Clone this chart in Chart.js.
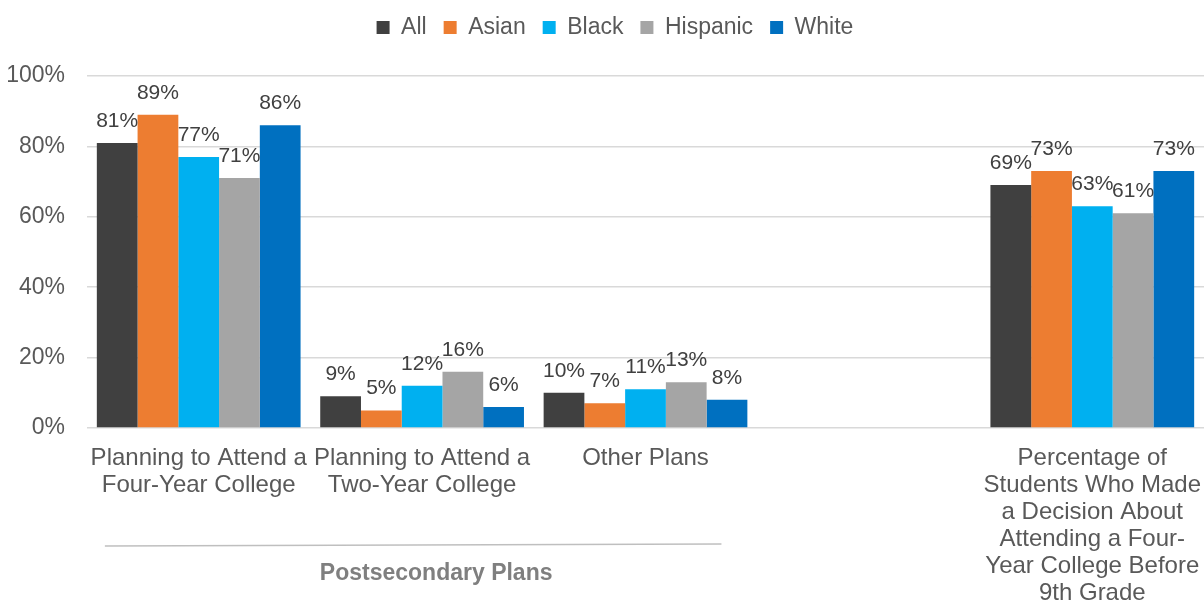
<!DOCTYPE html>
<html>
<head>
<meta charset="utf-8">
<script src="https://cdn.jsdelivr.net/npm/chart.js@4.4.1/dist/chart.umd.min.js"></script>
<style>
  html, body { margin: 0; padding: 0; background: #fff; }
  #wrap { width: 1204px; height: 602px; }
</style>
</head>
<body>
<div id="wrap"><canvas id="chart" width="1204" height="602"></canvas></div>
<script>
const categories = [
  ['Planning to Attend a', 'Four-Year College'],
  ['Planning to Attend a', 'Two-Year College'],
  'Other Plans',
  '',
  ['Percentage of', 'Students Who Made', 'a Decision About', 'Attending a Four-', 'Year College Before', '9th Grade']
];
const seriesNames = ['All', 'Asian', 'Black', 'Hispanic', 'White'];
const allValues = [81, 9, 10, null, 69];
const asianValues = [89, 5, 7, null, 73];
const blackValues = [77, 12, 11, null, 63];
const hispanicValues = [71, 16, 13, null, 61];
const whiteValues = [86, 6, 8, null, 73];
const yTicks = [0, 20, 40, 60, 80, 100];
const groupLabel = 'Postsecondary Plans';
const groupFirst = 0;
const groupLast = 2;

const colors = ['#404040', '#ED7D31', '#00B0F0', '#A5A5A5', '#0070C0'];
const fontFamily = '"Liberation Sans", Arial, sans-serif';
const seriesValues = [allValues, asianValues, blackValues, hispanicValues, whiteValues];

// value labels above each bar
const barLabels = {
  id: 'barLabels',
  afterDatasetsDraw(chart) {
    const ctx = chart.ctx;
    ctx.save();
    ctx.font = '21px ' + fontFamily;
    ctx.fillStyle = '#404040';
    ctx.textAlign = 'center';
    ctx.textBaseline = 'alphabetic';
    chart.data.datasets.forEach((ds, i) => {
      chart.getDatasetMeta(i).data.forEach((bar, j) => {
        const v = ds.data[j];
        if (v == null) return;
        ctx.fillText(v + '%', bar.x, bar.y - 16);
      });
    });
    ctx.restore();
  }
};

// bracket line + group title under the first three categories
const groupTitle = {
  id: 'groupTitle',
  afterDraw(chart) {
    const xs = chart.scales.x;
    const w = xs.getPixelForValue(1) - xs.getPixelForValue(0);
    const left = xs.getPixelForValue(groupFirst) - 0.42 * w;
    const right = xs.getPixelForValue(groupLast) + 0.34 * w;
    const y = chart.chartArea.bottom + 117;
    const ctx = chart.ctx;
    ctx.save();
    ctx.strokeStyle = '#BFBFBF';
    ctx.lineWidth = 1.5;
    ctx.beginPath();
    ctx.moveTo(left, y + 1);
    ctx.lineTo(right, y - 1);
    ctx.stroke();
    ctx.font = 'bold 23px ' + fontFamily;
    ctx.fillStyle = '#7F7F7F';
    ctx.textAlign = 'center';
    ctx.textBaseline = 'middle';
    ctx.fillText(groupLabel, (left + right) / 2 + 23, y + 29);
    ctx.restore();
  }
};

// nudge the legend row up and a bit to the right
const legendShift = {
  id: 'legendShift',
  afterLayout(chart) {
    const lg = chart.legend;
    lg.top -= 27;
    lg.bottom -= 27;
    lg.left += 13;
    lg.right += 13;
  }
};

new Chart(document.getElementById('chart'), {
  type: 'bar',
  data: {
    labels: categories,
    datasets: seriesNames.map((name, i) => ({
      label: name,
      data: seriesValues[i],
      backgroundColor: colors[i],
      borderWidth: 0,
      categoryPercentage: 0.912,
      barPercentage: 1
    }))
  },
  options: {
    responsive: false,
    animation: false,
    layout: { padding: { top: 26, right: 0, left: 0, bottom: 0 } },
    plugins: {
      legend: {
        position: 'top',
        labels: {
          color: '#595959',
          font: { size: 23, family: fontFamily },
          boxWidth: 13,
          boxHeight: 13,
          padding: 17
        }
      },
      tooltip: { enabled: false }
    },
    scales: {
      x: {
        grid: { display: false },
        border: { display: false },
        ticks: {
          color: '#595959',
          font: { size: 24, family: fontFamily, lineHeight: '27px' },
          maxRotation: 0,
          autoSkip: false,
          padding: 9
        },
        afterFit(scale) {
          scale.height = 174;
          scale.paddingLeft = 0;
          scale.paddingRight = 0;
        }
      },
      y: {
        min: 0,
        max: 100,
        afterBuildTicks(scale) { scale.ticks = yTicks.map(v => ({ value: v })); },
        grid: { color: '#D9D9D9', lineWidth: 1.5, drawTicks: false },
        border: { display: false },
        ticks: {
          color: '#595959',
          font: { size: 23, family: fontFamily },
          padding: 22,
          callback: v => v + '%'
        },
        afterFit(scale) { scale.width = 87; }
      }
    }
  },
  plugins: [barLabels, groupTitle, legendShift]
});
</script>
</body>
</html>
